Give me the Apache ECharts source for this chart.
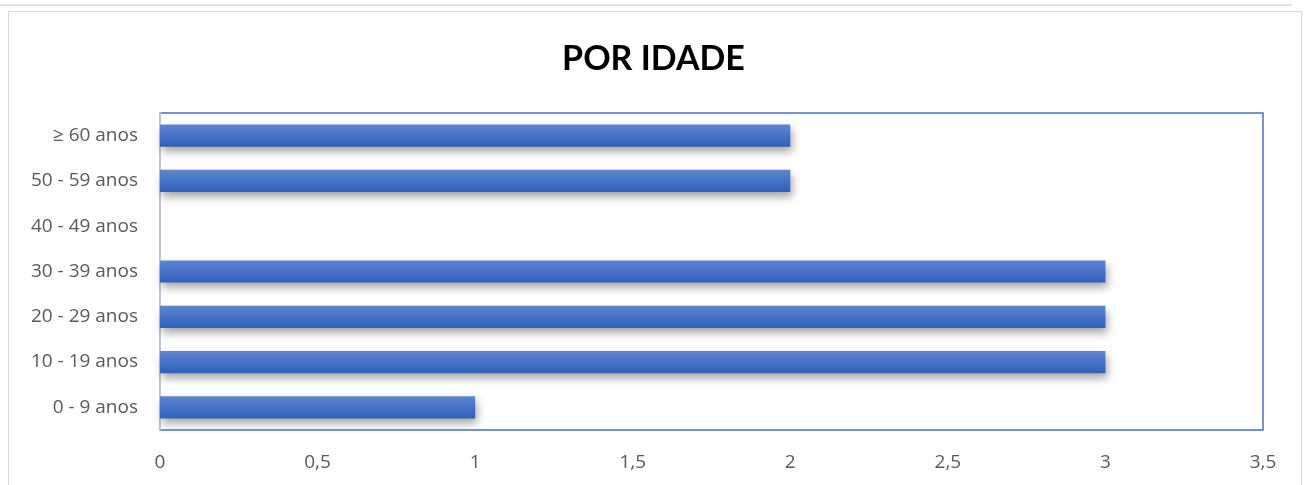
<!DOCTYPE html>
<html>
<head>
<meta charset="utf-8">
<script src="https://cdn.jsdelivr.net/npm/echarts@6/dist/echarts.min.js"></script>
<style>
    html, body { margin: 0; padding: 0; background: #fff; }
    #topbar { position: absolute; left: 0; top: 4px; width: 1292px; height: 2px; background: #e1e6ec; }
    #frame { position: absolute; left: 8px; top: 11px; width: 1294px; height: 480px; border: 1px solid #d9d9d9; box-sizing: border-box; }
    #chart { position: absolute; left: 0; top: 0; width: 1307px; height: 485px; }
</style>
</head>
<body>
<div id="topbar"></div>
<div id="frame"></div>
<div id="chart"></div>
<script>
    //faixas etarias (de baixo para cima)
    let categorias = ['0 - 9 anos', '10 - 19 anos', '20 - 29 anos', '30 - 39 anos', '40 - 49 anos', '50 - 59 anos', '≥ 60 anos'];
    //quantidade por faixa
    let valores = [1, 3, 3, 3, 0, 2, 2];
    //rotulos do eixo X
    let ticksX = [0, 0.5, 1, 1.5, 2, 2.5, 3, 3.5];

    let myChart = echarts.init(document.getElementById('chart'));

    var option = {
        title: {
            text: 'POR IDADE',
            left: 'center',
            top: 37,
            textStyle: {
                fontFamily: 'Lato',
                fontSize: 34,
                fontWeight: 'bold',
                color: '#000'
            }
        },
        grid: {
            left: 160,
            right: 44,
            top: 113,
            bottom: 55,
            show: true,
            borderColor: '#4472c4',
            borderWidth: 1.5
        },
        xAxis: {
            type: 'value',
            min: ticksX[0],
            max: ticksX[ticksX.length - 1],
            interval: 0.5,
            splitLine: { show: false },
            axisLine: { show: false },
            axisTick: { show: false },
            axisLabel: {
                margin: 23,
                color: '#595959',
                fontFamily: 'Open Sans',
                fontSize: 19,
                formatter: function (v) { return String(v).replace('.', ','); }
            }
        },
        yAxis: {
            type: 'category',
            data: categorias,
            axisLine: { show: true, lineStyle: { color: '#d9d9d9', width: 1.5 } },
            axisTick: { show: false },
            axisLabel: {
                margin: 22,
                color: '#595959',
                fontFamily: 'Open Sans',
                fontSize: 19
            }
        },
        series: [{
            type: 'bar',
            data: valores,
            barWidth: '49%',
            itemStyle: {
                color: new echarts.graphic.LinearGradient(0, 0, 0, 1, [
                    { offset: 0, color: '#5d85d0' },
                    { offset: 1, color: '#2f5fbc' }
                ]),
                shadowColor: 'rgba(0,0,0,0.35)',
                shadowBlur: 9,
                shadowOffsetX: 2,
                shadowOffsetY: 5
            }
        }]
    };

    myChart.setOption(option);
</script>
</body>
</html>
